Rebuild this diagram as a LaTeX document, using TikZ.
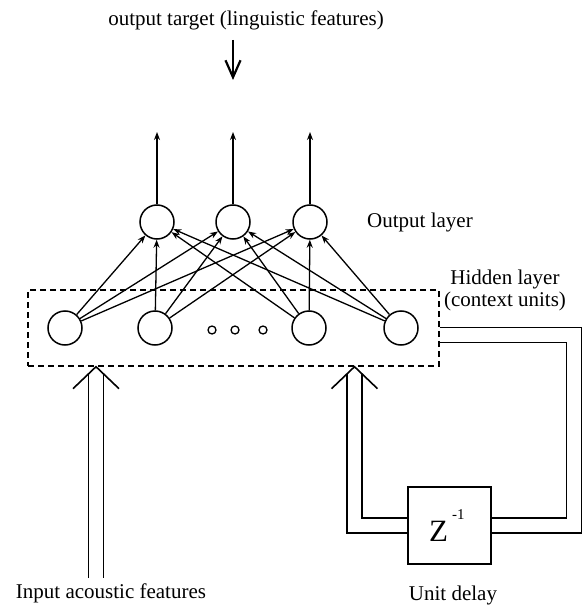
\documentclass[tikz,border=0pt]{standalone}
\usepackage{fontspec}
\setmainfont{Liberation Serif}
\usepackage{tikz}
\usetikzlibrary{arrows.meta, positioning}
\tikzstyle{unit} = [circle, draw=black, line width=1.5pt, minimum size=34pt, inner sep=0pt]
\tikzstyle{dot} = [circle, draw=black, line width=1.3pt, minimum size=8pt, inner sep=0pt]
\tikzstyle{layerbox} = [rectangle, draw=black, line width=1.4pt, dash pattern=on 6pt off 4pt, minimum width=411pt, minimum height=76pt]
\tikzstyle{delaybox} = [rectangle, draw=black, line width=1.5pt, minimum width=83pt, minimum height=77pt]
\tikzstyle{txt} = [font=\fontsize{21}{22}\selectfont, inner sep=0pt]
\tikzstyle{arrow} = [line width=1.3pt, -{Stealth[length=8pt,width=6pt]}]
\tikzstyle{pipe} = [draw, line width=1.5pt, double distance=13.5pt]
\tikzstyle{vee} = [line width=1.6pt]

\begin{document}
\begin{tikzpicture}[x=1pt, y=-1pt]
        \useasboundingbox (0,0) rectangle (583,612);
        \node[txt] (target) at (246,20) {output target (linguistic features)};
        \coordinate (tgttop) at (233,40);
        \coordinate (tgtbot) at (233,80);

        \node[unit] (o1) at (157,222) {};
        \node[unit] (o2) at (233,222) {};
        \node[unit] (o3) at (310,222) {};
        \node[txt] (outlab) at (420,222) {Output layer};
        \coordinate (top1) at (157,132);
        \coordinate (top2) at (233,132);
        \coordinate (top3) at (310,132);

        \node[layerbox] (hidbox) at (233.5,328) {};
        \node[unit] (h1) at (65,328) {};
        \node[unit] (h2) at (155,328) {};
        \node[unit] (h3) at (309,328) {};
        \node[unit] (h4) at (401,328) {};
        \node[dot] (d1) at (212,330) {};
        \node[dot] (d2) at (235,330) {};
        \node[dot] (d3) at (263,330) {};
        \node[txt, align=center] (hidlab) at (505,290) {Hidden layer\\(context units)};

        \node[delaybox] (delay) at (449.5,525.5) {};
        \node[anchor=base west, inner sep=0pt, font=\fontsize{31}{31}\selectfont] (zlab) at (429,541)
            {Z\hspace{4pt}\raisebox{22pt}{\fontsize{15}{15}\selectfont -1}};
        \node[txt] (delaylab) at (453,595) {Unit delay};

        \node[txt] (inlab) at (111,593) {Input acoustic features};
        \coordinate (inbot) at (96,578);
        \coordinate (intop) at (96,374);
        \coordinate (fbx) at (574,335);
        \coordinate (fbup) at (354.5,374);

        \draw[line width=2.2pt, -{Straight Barb[length=17pt,width=15pt]}] (tgttop) -- (tgtbot);
        \foreach \o in {1,2,3} {
            \draw[arrow] (o\o) -- (top\o);
            \foreach \h in {1,2,3,4}
                \draw[arrow] (h\h) -- (o\o);
        }

        \draw[pipe] ([yshift=-7pt]hidbox.east) -- (fbx) |- (delay.east);
        \draw[pipe] (delay.west) -| (fbup);
        \draw[pipe] (inbot) -- (intop);
        \draw[vee] ([xshift=-23pt,yshift=-22pt]hidbox.south -| fbup) -- (hidbox.south -| fbup) -- ([xshift=23pt,yshift=-22pt]hidbox.south -| fbup);
        \draw[vee] ([xshift=-23pt,yshift=-22pt]hidbox.south -| inbot) -- (hidbox.south -| inbot) -- ([xshift=23pt,yshift=-22pt]hidbox.south -| inbot);
    \end{tikzpicture}
\end{document}
